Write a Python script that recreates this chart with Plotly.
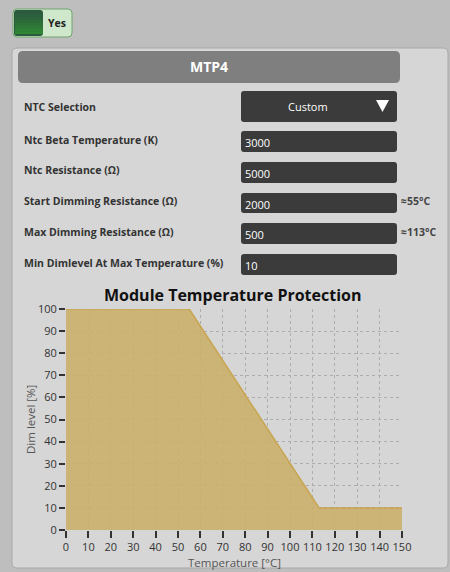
import plotly.graph_objects as go

W, H = 450, 572

# ---- data ----
temperatures = [0, 55, 113, 150]
dim_levels = [100, 100, 10, 10]
x_ticks = [0, 10, 20, 30, 40, 50, 60, 70, 80, 90, 100, 110, 120, 130, 140, 150]
y_ticks = [0, 10, 20, 30, 40, 50, 60, 70, 80, 90, 100]

field_labels = ["NTC Selection", "Ntc Beta Temperature (K)", "Ntc Resistance (\u03a9)",
                "Start Dimming Resistance (\u03a9)", "Max Dimming Resistance (\u03a9)",
                "Min Dimlevel At Max Temperature (%)"]
field_values = ["Custom", "3000", "5000", "2000", "500", "10"]
field_hints = ["", "", "", "\u224855\u00b0C", "\u2248113\u00b0C", ""]

title_text = "Module Temperature Protection"
x_title = "Temperature [\u00b0C]"
y_title = "Dim level [%]"
header_text = "MTP4"
toggle_text = "Yes"

# ---- helpers (pixel -> paper) ----
def px(x):
    return x / W

def py(y):
    return 1 - y / H

def rrect(x0, y0, x1, y1, r, fill, line_color=None, line_width=0, layer="below"):
    rx, ry = r / W, r / H
    X0, X1 = px(x0), px(x1)
    Y0, Y1 = py(y0), py(y1)  # Y0 top (bigger)
    path = (f"M {X0+rx},{Y0} L {X1-rx},{Y0} Q {X1},{Y0} {X1},{Y0-ry} "
            f"L {X1},{Y1+ry} Q {X1},{Y1} {X1-rx},{Y1} "
            f"L {X0+rx},{Y1} Q {X0},{Y1} {X0},{Y1+ry} "
            f"L {X0},{Y0-ry} Q {X0},{Y0} {X0+rx},{Y0} Z")
    return dict(type="path", path=path, xref="paper", yref="paper",
                fillcolor=fill, line=dict(color=line_color or fill, width=line_width),
                layer=layer)

def rect(x0, y0, x1, y1, fill):
    return dict(type="rect", xref="paper", yref="paper", x0=px(x0), x1=px(x1),
                y0=py(y1), y1=py(y0), fillcolor=fill, line=dict(width=0), layer="below")

def text(x, y, s, size, color, xanchor="center", angle=0):
    return dict(x=px(x), y=py(y), text=s, showarrow=False, xref="paper", yref="paper",
                xanchor=xanchor, yanchor="middle", textangle=angle,
                font=dict(size=size, color=color, family="Open Sans"))

shapes = []
annotations = []

# outer panel
shapes.append(rrect(12, 48, 448, 568, 5, "#d6d6d6", "#a8a8a8", 1))
# toggle switch
shapes.append(rrect(13, 9, 72, 37, 4, "#cfe8cc", "#6fa46f", 1))
shapes.append(rrect(14, 10, 43, 36, 3, "#2c5a3e"))
band_colors = ["#2c5f3d", "#2c653b", "#2d6c39", "#2d7337", "#2e7a36", "#2e8135", "#2f8734"]
for j, c in enumerate(band_colors):
    shapes.append(rect(15, 14 + 3 * j, 43, 17 + 3 * j if j < 6 else 34, c))
# header bar
shapes.append(rrect(18, 51, 400, 83, 5, "#7f7f7f"))

annotations.append(text(57.5, 23, f"<b>{toggle_text}</b>", 10.5, "#222"))
annotations.append(text(209, 67, f"<b>{header_text}</b>", 14, "white"))

label_y = [107, 140, 170, 201, 232, 263]
box_y = [(91, 122), (131, 152), (162, 183), (193, 213), (223, 244), (254, 275)]
for i, lab in enumerate(field_labels):
    annotations.append(text(22, label_y[i], f"<b>{lab}</b>", 10.5, "#333", xanchor="left"))
    b0, b1 = box_y[i]
    shapes.append(rrect(241, b0, 397, b1, 3, "#3b3b3b"))
    if i == 0:
        annotations.append(text(308, (b0 + b1) / 2, field_values[i], 11, "white"))
        tri = (f"M {px(376)},{py(100)} L {px(389)},{py(100)} L {px(382.5)},{py(112)} Z")
        shapes.append(dict(type="path", path=tri, xref="paper", yref="paper",
                           fillcolor="white", line=dict(color="white", width=0)))
    else:
        annotations.append(text(243, (b0 + b1) / 2 + 1, field_values[i], 11, "white", xanchor="left"))
    if field_hints[i]:
        annotations.append(text(399, label_y[i], f"<b>{field_hints[i]}</b>", 10.5, "#444", xanchor="left"))

# chart title and axis titles
annotations.append(text(233, 295, f"<b>{title_text}</b>", 16, "#111"))
annotations.append(text(30, 420, y_title, 11.5, "#555", angle=-90))
annotations.append(text(234, 562, x_title, 11.5, "#555"))

fig = go.Figure()
fig.add_trace(go.Scatter(x=temperatures, y=dim_levels, mode="lines", fill="tozeroy",
                         fillcolor="rgba(203,174,103,0.86)",
                         line=dict(color="#c8a550", width=1.5), hoverinfo="skip",
                         showlegend=False))

axis_font = dict(size=11, color="#333", family="Open Sans")
fig.update_layout(
    width=W, height=H, margin=dict(l=0, r=0, t=0, b=0, pad=0, autoexpand=False), autosize=False,
    paper_bgcolor="#bebebe", plot_bgcolor="rgba(0,0,0,0)",
    shapes=shapes, annotations=annotations, showlegend=False,
    xaxis=dict(domain=[px(66), px(402)], range=[0, 150], tickvals=x_ticks, tickangle=0,
               automargin=False,
               ticks="outside", ticklen=7, tickwidth=1.5, tickcolor="#333",
               showgrid=True, gridcolor="#adadad", griddash="dot", gridwidth=1,
               zeroline=False, showline=False, fixedrange=True, tickfont=axis_font),
    yaxis=dict(domain=[py(530), py(309)], range=[0, 100], tickvals=y_ticks,
               automargin=False,
               ticks="outside", ticklen=6, tickwidth=1.5, tickcolor="#333",
               showgrid=True, gridcolor="#adadad", griddash="dot", gridwidth=1,
               zeroline=False, showline=False, fixedrange=True, tickfont=axis_font),
)

fig.write_html("out.html", config={"displayModeBar": False},
               post_script="document.body.style.margin='0';document.body.style.overflow='hidden';")
